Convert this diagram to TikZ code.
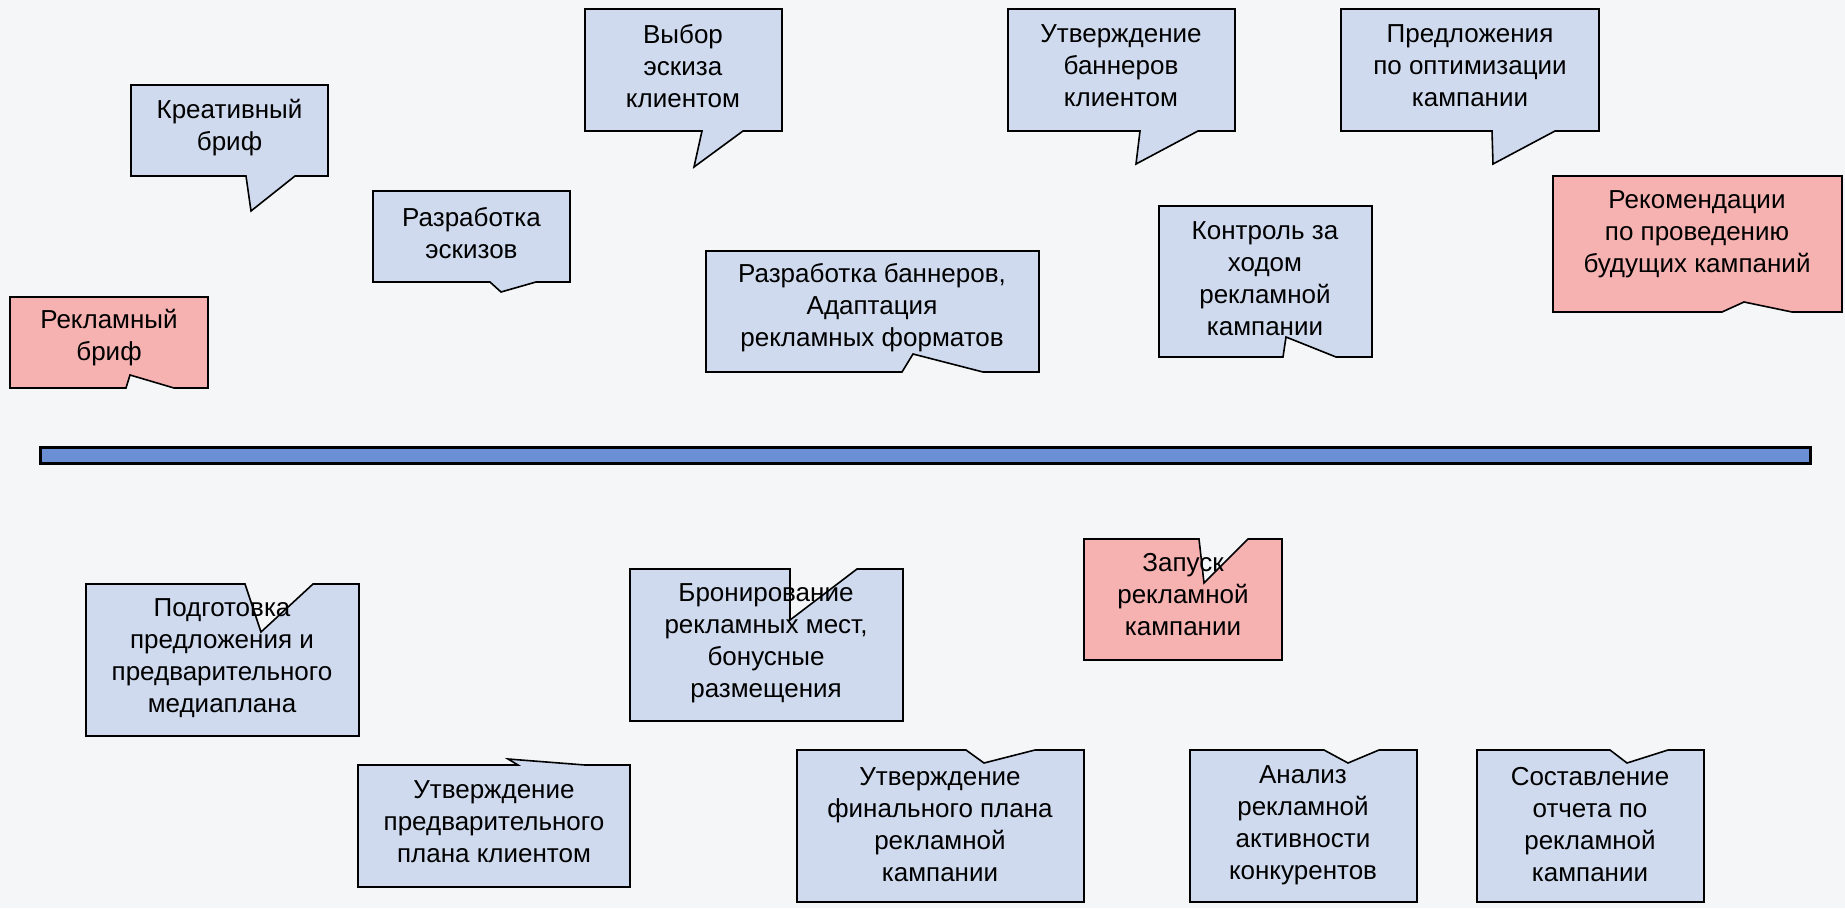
\documentclass[tikz,border=0pt]{standalone}
\usepackage{fontspec}
\setmainfont{Liberation Sans}
\definecolor{bgc}{HTML}{F5F6F8}
\definecolor{boxblue}{HTML}{CFDAEE}
\definecolor{boxpink}{HTML}{F6B1B1}
\definecolor{barblue}{HTML}{6A8FD4}
% bottom-tail callout: #1 fill, (#2,#3)-(#4,#5) rect, #6 left base, (#7,#8) tip, #9 right base
\newcommand\cbot[9]{\filldraw[callout,fill=#1] (#2,#3) -- (#4,#3) -- (#4,#5) -- (#9,#5) -- (#7,#8) -- (#6,#5) -- (#2,#5) -- cycle;}
\newcommand\ctop[9]{\filldraw[callout,fill=#1] (#2,#3) -- (#6,#3) -- (#7,#8) -- (#9,#3) -- (#4,#3) -- (#4,#5) -- (#2,#5) -- cycle;}
\begin{document}
\begin{tikzpicture}[x=1pt,y=-1pt,
  callout/.style={draw=black,line width=1.6pt,line join=miter},
  txt/.style={align=center,inner sep=0pt,font=\fontsize{26}{32}\selectfont,text=black}]
\fill[bgc] (0,0) rectangle (1845,908);
\useasboundingbox (0,0) rectangle (1845,908);
% top row
\cbot{boxpink}{10}{297}{208}{388}{126}{130}{375}{174}
\node[txt] (rek) at (109,338) {Рекламный\\бриф};
\cbot{boxblue}{131}{85}{328}{176}{246}{251}{211}{295}
\node[txt] (kreat) at (229.5,128) {Креативный\\бриф};
\cbot{boxblue}{373}{191}{570}{282}{490}{501}{292}{536}
\node[txt] (eskiz) at (471.5,233) {Разработка\\эскизов};
\cbot{boxblue}{585}{9}{782}{131}{702}{694}{167}{743}
\node[txt] (vybor) at (683,66) {Выбор\\эскиза\\клиентом};
\cbot{boxblue}{1008}{9}{1235}{131}{1140}{1136}{164}{1198}
\node[txt] (utvban) at (1121,66) {Утверждение\\баннеров\\клиентом};
\cbot{boxblue}{706}{251}{1039}{372}{902}{913}{354}{983}
\node[txt] (razban) at (872,308) {Разработка баннеров,\\Адаптация\\рекламных форматов};
\cbot{boxblue}{1159}{206}{1372}{357}{1283}{1286}{337}{1336}
\node[txt] (kontrol) at (1265,279) {Контроль за\\ходом\\рекламной\\кампании};
\cbot{boxblue}{1341}{9}{1599}{131}{1492}{1493}{164}{1555}
\node[txt] (predl) at (1470,66) {Предложения\\по оптимизации\\кампании};
\cbot{boxpink}{1553}{176}{1842}{312}{1722}{1744}{302}{1792}
\node[txt] (rekom) at (1697,234) {Рекомендации\\по проведению\\будущих кампаний};
% bar
\filldraw[fill=barblue,draw=black,line width=3pt] (40,447) rectangle (1810,463);
\coordinate (barmid) at (925,455);
% bottom row
\ctop{boxblue}{86}{584}{359}{736}{245}{261}{632}{313}
\ctop{boxblue}{358}{765}{630}{887}{518}{508}{759}{585}
\ctop{boxblue}{630}{569}{903}{721}{790}{790}{620}{857}
\ctop{boxpink}{1084}{539}{1282}{660}{1199}{1204}{583}{1248}
\ctop{boxblue}{797}{750}{1084}{902}{966}{984}{763}{1035}
\ctop{boxblue}{1190}{750}{1417}{902}{1324}{1348}{763}{1379}
\ctop{boxblue}{1477}{750}{1704}{902}{1610}{1627}{763}{1668}
\node[txt] (podg) at (222,658) {Подготовка\\предложения и\\предварительного\\медиаплана};
\node[txt] (utvpred) at (494,822) {Утверждение\\предварительного\\плана клиентом};
\node[txt] (bron) at (766,643) {Бронирование\\рекламных мест,\\бонусные\\размещения};
\node[txt] (zapusk) at (1183,595) {Запуск\\рекламной\\кампании};
\node[txt] (utvfin) at (940,825) {Утверждение\\финального плана\\рекламной\\кампании};
\node[txt] (analiz) at (1303,825) {Анализ\\рекламной\\активности\\конкурентов};
\node[txt] (sost) at (1590,825) {Составление\\отчета по\\рекламной\\кампании};
\end{tikzpicture}
\end{document}
